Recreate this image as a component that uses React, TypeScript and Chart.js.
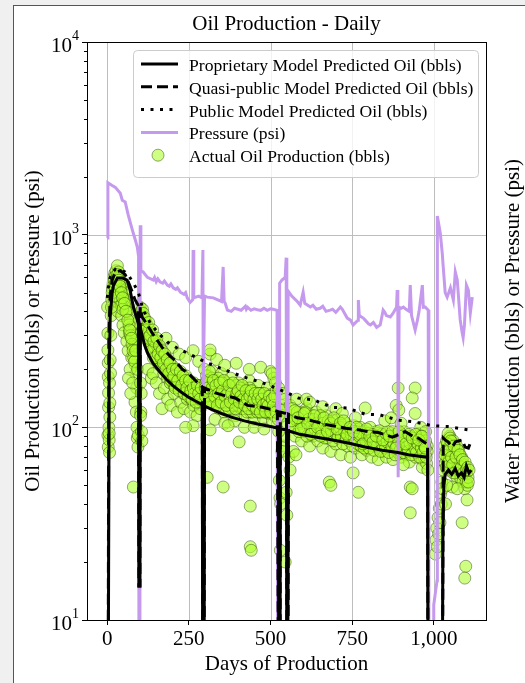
import { useEffect, useRef } from 'react';
import { Chart, registerables } from 'chart.js';

Chart.register(...registerables);

const chartTitle = 'Oil Production - Daily';
const xAxisTitle = 'Days of Production';
const yAxisTitle = 'Oil Production (bbls) or Pressure (psi)';
const y2AxisTitle = 'Water Production (bbls) or Pressure (psi)';
const xTickValues = [0, 250, 500, 750, 1000];
const yTickValues = [10, 100, 1000, 10000];
const yTickBase = '10';
const yTickExponents = ['1', '2', '3', '4'];
const seriesLabels = [
  'Proprietary Model Predicted Oil (bbls)',
  'Quasi-public Model Predicted Oil (bbls)',
  'Public Model Predicted Oil (bbls)',
  'Pressure (psi)',
  'Actual Oil Production (bbls)',
];

// [day, bbls]
const proprietaryModel: [number, number][] = [
  [2, 1], [6, 200], [9, 373], [15, 498], [19, 545], [31, 596], [46, 596], [61, 581], [70, 516], [80, 421], [92, 361], [96, 340],
  [97, 15], [100, 15], [101, 331], [107, 300], [115, 265], [125, 240], [140, 215], [160, 195], [180, 178], [200, 165], [225, 153],
  [250, 143], [270, 137], [291, 131], [293, 1], [296, 1], [298, 129], [320, 124], [350, 118], [380, 113], [420, 108], [460, 104],
  [500, 101], [524, 99], [526, 1], [529, 1], [530, 98], [549, 97], [551, 1], [553, 1], [555, 96], [590, 92], [637, 89], [690, 86],
  [738, 83], [790, 79], [842, 76], [890, 74], [922, 72], [950, 71], [981, 70], [983, 1], [1025, 1], [1028, 28], [1031, 50],
  [1035, 57], [1045, 60], [1055, 57], [1066, 61], [1075, 56], [1085, 58], [1093, 55], [1100, 63], [1108, 58], [1115, 60],
];

const quasiPublicModel: [number, number][] = [
  [2, 1], [5, 300], [9, 480], [15, 580], [25, 640], [40, 650], [55, 620], [70, 540], [85, 460], [95, 430], [97, 15], [100, 15],
  [101, 420], [107, 373], [123, 340], [138, 308], [155, 280], [168, 260], [190, 236], [208, 222], [230, 200], [248, 191], [270, 175],
  [291, 162], [293, 1], [296, 1], [298, 160], [331, 151], [360, 146], [392, 142], [430, 130], [475, 127], [500, 124], [521, 121],
  [526, 1], [529, 1], [530, 120], [549, 118], [551, 1], [553, 1], [555, 117], [582, 112], [610, 110], [637, 107], [662, 104],
  [689, 102], [730, 99], [769, 97], [800, 95], [830, 94], [873, 89], [895, 92], [913, 95], [935, 90], [953, 88], [974, 83], [981, 82],
  [983, 1], [1026, 1], [1029, 88], [1035, 86], [1044, 84], [1057, 79], [1066, 84], [1076, 85], [1087, 86], [1096, 79], [1106, 78],
  [1112, 83],
];

const publicModel: [number, number][] = [
  [0, 470], [5, 560], [12, 630], [25, 660], [40, 655], [55, 640], [64, 620], [80, 561], [95, 503], [110, 406], [132, 348],
  [153, 313], [184, 277], [214, 258], [245, 243], [276, 229], [306, 216], [346, 203], [386, 191], [429, 180], [469, 172],
  [508, 162], [551, 151], [585, 142], [631, 139], [689, 127], [735, 126], [790, 117], [836, 116], [891, 109], [937, 107],
  [995, 102], [1041, 101], [1106, 97],
];

// [day, psi]
const pressure: [number, number][] = [
  [0, 960], [2, 1860], [15, 1800], [25, 1760], [40, 1640], [46, 1510], [55, 1480], [64, 1270], [77, 1057], [86, 938], [92, 863],
  [96, 770], [97, 8], [100, 8], [101, 1120], [103, 650], [110, 640], [123, 600], [141, 581], [145, 600], [150, 570], [155, 590],
  [162, 567], [170, 560], [175, 575], [184, 547], [190, 540], [195, 555], [202, 530], [210, 520], [215, 530], [224, 503],
  [235, 490], [240, 500], [245, 470], [254, 445], [262, 460], [263, 832], [265, 470], [280, 480], [290, 470], [293, 832],
  [294, 156], [296, 156], [298, 480], [306, 474], [325, 470], [350, 450], [355, 680], [358, 450], [361, 442], [368, 406],
  [380, 400], [390, 415], [400, 410], [410, 405], [423, 425], [426, 410], [430, 420], [440, 405], [450, 412], [460, 408],
  [470, 405], [480, 415], [490, 405], [500, 412], [508, 410], [520, 405], [522, 8], [527, 8], [528, 560], [535, 581], [545, 600],
  [548, 760], [550, 8], [553, 8], [554, 510], [565, 480], [582, 450], [591, 431], [600, 503], [605, 440], [622, 421], [630, 430],
  [640, 410], [652, 415], [660, 425], [670, 400], [683, 406], [690, 410], [700, 395], [714, 421], [720, 410], [735, 369],
  [745, 360], [753, 340], [768, 360], [769, 458], [772, 380], [784, 369], [790, 360], [800, 345], [806, 340], [815, 350],
  [825, 330], [836, 340], [845, 406], [850, 395], [855, 380], [867, 374], [875, 390], [886, 420], [888, 516], [890, 400],
  [891, 55], [893, 55], [894, 420], [900, 415], [907, 421], [915, 410], [925, 400], [928, 547], [932, 380], [943, 320],
  [950, 360], [955, 400], [965, 547], [968, 420], [974, 421], [980, 410], [983, 406], [985, 8], [998, 8], [1000, 12], [1010, 16],
  [1011, 1250], [1020, 1018], [1026, 801], [1029, 680], [1035, 500], [1041, 474], [1051, 530], [1060, 458], [1066, 640],
  [1072, 581], [1081, 361], [1087, 310], [1090, 292], [1094, 340], [1100, 547], [1106, 516], [1112, 392], [1118, 474],
];

// [day, bbls]
const actualOil: [number, number][] = [
  // first flow period
  [1, 421], [2, 308], [2, 252], [3, 216], [3, 183], [4, 151], [4, 127], [2, 91], [3, 79], [5, 100], [6, 86], [7, 170], [8, 134],
  [8, 113], [6, 93], [7, 74], [9, 224], [10, 191], [11, 300], [12, 380], [14, 460], [16, 520], [18, 560], [20, 600], [23, 630],
  [27, 650], [31, 690], [35, 640], [38, 600], [42, 570], [24, 500], [28, 450], [32, 400], [36, 440], [40, 490], [45, 530], [50, 550],
  [55, 500], [44, 380], [48, 340], [52, 310], [58, 460], [62, 430], [66, 390], [70, 360], [60, 280], [64, 250], [68, 310], [73, 330],
  [77, 290], [80, 260], [83, 240], [86, 210], [88, 190], [90, 160], [85, 135], [89, 120], [91, 100], [92, 88], [94, 79], [80, 49],
  [86, 275], [90, 300], [94, 350], [75, 230], [70, 200], [65, 180], [72, 150], [78, 170], [95, 91], [17, 540], [21, 580], [26, 610],
  [29, 560], [33, 600], [37, 560], [41, 520], [46, 480], [51, 460], [56, 420], [61, 400], [67, 340], [71, 300], [76, 270], [81, 230],
  [30, 520], [34, 500], [39, 450], [43, 430], [47, 410], [13, 420], [15, 500], [19, 480], [22, 540], [25, 560], [28, 590], [32, 620],
  [36, 580], [39, 540], [43, 500], [47, 470], [53, 440], [57, 400], [63, 360], [69, 320], [74, 290], [79, 250], [84, 220], [87, 250],
  [93, 200],
  // after first restart
  [101, 420], [103, 400], [105, 380], [108, 410], [112, 360], [102, 170], [104, 150], [103, 120], [105, 95], [106, 85], [102, 115],
  [115, 330], [118, 300], [122, 340], [126, 310], [130, 280], [134, 300], [138, 270], [142, 250], [146, 285], [150, 240], [154, 260],
  [158, 225], [162, 245], [166, 215], [170, 235], [174, 205], [178, 225], [182, 195], [186, 215], [190, 200], [194, 185], [198, 210],
  [202, 190], [206, 175], [210, 195], [214, 180], [218, 165], [222, 185], [226, 170], [230, 160], [234, 180], [238, 165], [242, 155],
  [246, 175], [250, 160], [254, 150], [258, 170], [262, 155], [266, 145], [270, 165], [274, 150], [278, 140], [282, 160], [286, 148],
  [290, 155], [125, 200], [135, 180], [140, 190], [150, 170], [160, 150], [168, 125], [175, 160], [185, 140], [195, 130], [205, 150],
  [215, 120], [225, 135], [235, 125], [245, 140], [255, 120], [265, 130], [275, 115], [285, 125], [180, 290], [200, 260], [220, 240],
  [240, 230], [263, 250], [280, 220], [263, 102], [240, 100], [111, 350], [113, 320], [117, 360], [121, 300], [125, 280], [129, 320],
  [133, 260], [137, 290], [141, 230], [145, 260], [149, 270], [153, 230], [157, 250], [161, 210], [165, 240], [169, 220], [173, 190],
  [177, 210], [181, 230], [185, 180], [189, 210], [193, 170], [197, 195], [201, 200], [205, 165], [209, 185], [213, 170], [217, 190],
  [221, 160], [225, 180], [229, 175], [233, 150], [237, 170], [241, 185], [245, 150], [249, 170], [253, 165], [257, 140], [261, 160],
  [265, 170], [269, 145], [273, 160], [277, 155], [281, 135], [285, 165], [289, 140], [110, 390], [114, 370], [119, 320], [123, 290],
  [127, 350], [131, 300], [136, 250], [139, 320], [143, 280], [147, 230], [152, 290], [156, 240], [160, 265], [164, 230], [168, 250],
  [172, 215], [176, 240], [180, 200], [184, 225], [188, 190], [192, 215], [196, 175], [200, 200], [204, 185], [208, 160], [212, 200],
  [216, 175], [220, 155], [224, 195], [228, 165], [232, 185], [236, 150], [240, 175], [244, 160], [248, 145], [252, 175], [256, 155],
  [260, 140], [264, 160], [268, 150], [272, 135], [276, 165], [280, 150], [284, 140], [288, 160],
  // second period
  [298, 200], [302, 170], [306, 150], [310, 185], [314, 140], [318, 165], [322, 195], [326, 130], [330, 155], [334, 175], [338, 145],
  [342, 125], [346, 160], [350, 190], [354, 140], [358, 120], [362, 155], [366, 170], [370, 135], [374, 150], [378, 180], [382, 125],
  [386, 145], [390, 160], [394, 115], [398, 135], [402, 170], [406, 150], [410, 125], [414, 140], [418, 160], [422, 115], [426, 130],
  [430, 150], [434, 175], [438, 120], [442, 140], [446, 155], [450, 110], [454, 130], [458, 145], [462, 165], [466, 120], [470, 135],
  [474, 150], [478, 112], [482, 128], [486, 142], [490, 160], [494, 118], [498, 132], [502, 148], [506, 108], [510, 125], [514, 140],
  [518, 155], [521, 118], [315, 240], [335, 225], [360, 210], [395, 215], [435, 200], [470, 205], [500, 195], [510, 180], [330, 110],
  [360, 105], [390, 108], [420, 100], [450, 100], [480, 98], [315, 252], [315, 97], [306, 55], [355, 49], [438, 39], [438, 24],
  [441, 23], [404, 84], [370, 102], [505, 190], [515, 170], [300, 160], [304, 185], [308, 135], [312, 170], [316, 150], [320, 180],
  [324, 145], [328, 170], [332, 140], [336, 160], [340, 180], [344, 135], [348, 150], [352, 170], [356, 150], [360, 135], [364, 145],
  [368, 160], [372, 125], [376, 165], [380, 140], [384, 155], [388, 130], [392, 145], [396, 165], [400, 130], [404, 145], [408, 160],
  [412, 135], [416, 125], [420, 150], [424, 140], [428, 120], [432, 135], [436, 160], [440, 130], [444, 120], [448, 145], [452, 125],
  [456, 140], [460, 120], [464, 135], [468, 150], [472, 125], [476, 140], [480, 120], [484, 135], [488, 125], [492, 145], [496, 120],
  [500, 135], [504, 125], [508, 140], [512, 115], [516, 130], [520, 128], [301, 145], [305, 175], [309, 160], [313, 195], [317, 135],
  [321, 160], [325, 175], [329, 145], [333, 165], [337, 130], [341, 150], [345, 170], [349, 135], [353, 155], [357, 175], [361, 145],
  [365, 130], [369, 150], [373, 165], [377, 135], [381, 150], [385, 170], [389, 140], [393, 125], [397, 150], [401, 155], [405, 135],
  [409, 145], [413, 165], [417, 140], [421, 130], [425, 155], [429, 140], [433, 125], [437, 145], [441, 155], [445, 130], [449, 140],
  [453, 150], [457, 125], [461, 140], [465, 150], [469, 120], [473, 140], [477, 130], [481, 150], [485, 120], [489, 135], [493, 130],
  [497, 145], [501, 120], [505, 140], [509, 130], [513, 145], [517, 120],
  // around the mid shut-ins
  [527, 53], [529, 43], [531, 40], [548, 46], [550, 35], [530, 23], [545, 20], [540, 80], [535, 75], [543, 90], [523, 110], [525, 95],
  [533, 130], [538, 115], [546, 125], [552, 105], [556, 70], [525, 160], [535, 150], [545, 140],
  // third period
  [560, 130], [565, 100], [570, 115], [575, 90], [580, 140], [585, 105], [590, 120], [595, 85], [600, 110], [605, 95], [610, 125],
  [615, 100], [620, 80], [625, 115], [630, 90], [635, 105], [640, 120], [645, 85], [650, 100], [655, 110], [660, 78], [665, 95],
  [670, 115], [675, 88], [680, 100], [685, 75], [690, 108], [695, 92], [700, 82], [705, 110], [710, 95], [715, 72], [720, 100],
  [725, 88], [730, 105], [735, 80], [740, 95], [745, 70], [750, 90], [755, 102], [760, 78], [765, 92], [770, 85], [775, 100],
  [780, 72], [785, 88], [790, 95], [795, 76], [800, 85], [805, 100], [810, 70], [815, 90], [820, 80], [825, 95], [830, 68], [835, 85],
  [840, 92], [845, 75], [850, 88], [855, 70], [860, 95], [865, 80], [870, 90], [875, 68], [880, 85], [885, 92], [890, 74], [895, 88],
  [900, 70], [905, 82], [910, 95], [915, 72], [920, 85], [925, 66], [930, 90], [935, 78], [940, 84], [945, 70], [950, 92], [955, 75],
  [960, 82], [965, 68], [970, 88], [975, 72], [980, 80], [790, 126], [891, 160], [943, 160], [885, 130], [893, 123], [934, 142],
  [943, 118], [680, 52], [685, 50], [753, 58], [769, 46], [928, 49], [934, 48], [928, 36], [965, 62], [907, 64], [570, 75], [578, 72],
  [560, 60], [610, 140], [620, 135], [660, 128], [700, 125], [720, 118], [760, 112], [850, 108], [870, 112], [900, 105], [960, 100],
  [975, 95], [960, 90], [965, 78], [970, 70], [975, 85], [978, 65], [980, 75], [982, 60], [562, 115], [567, 125], [572, 100],
  [577, 110], [582, 120], [587, 95], [592, 105], [597, 115], [602, 100], [607, 120], [612, 90], [617, 110], [622, 100], [627, 95],
  [632, 110], [637, 98], [642, 105], [647, 92], [652, 115], [657, 95], [662, 105], [667, 88], [672, 98], [677, 108], [682, 90],
  [687, 96], [692, 85], [697, 100], [702, 92], [707, 88], [712, 100], [717, 90], [722, 82], [727, 95], [732, 88], [737, 98],
  [742, 85], [747, 92], [752, 80], [757, 88], [762, 95], [767, 82], [772, 90], [777, 80], [782, 93], [787, 78], [792, 85], [797, 90],
  [802, 78], [807, 85], [812, 92], [817, 76], [822, 86], [827, 80], [832, 88], [837, 75], [842, 82], [847, 90], [852, 78], [857, 84],
  [862, 74], [867, 86], [872, 79], [877, 83], [882, 72], [887, 80], [892, 86], [897, 76], [902, 82], [907, 74], [912, 86], [917, 79],
  [922, 75], [927, 83], [932, 72], [937, 85], [942, 78], [947, 74], [952, 82], [957, 70], [962, 78], [967, 74], [972, 80], [977, 70],
  [564, 108], [574, 122], [584, 112], [594, 98], [604, 118], [614, 105], [624, 92], [634, 115], [644, 100], [654, 90], [664, 112],
  [674, 95], [684, 105], [694, 112], [704, 98], [714, 105], [724, 108], [734, 92], [744, 100], [754, 95], [764, 100], [774, 92],
  [784, 82], [794, 98], [804, 90], [814, 84], [824, 90], [834, 96], [844, 86], [854, 93], [864, 90], [874, 95], [884, 78], [894, 95],
  [904, 90], [914, 82], [924, 92], [934, 88], [944, 92], [954, 86], [964, 90], [974, 78],
  // last restart
  [1005, 22], [1007, 26], [1009, 30], [1011, 24], [1013, 34], [1015, 28], [1017, 38], [1019, 32], [1021, 45], [1023, 40], [1025, 52],
  [1027, 48], [1029, 60], [1031, 70], [1033, 80], [1035, 65], [1037, 75], [1039, 85], [1041, 70], [1043, 60], [1045, 78], [1047, 68],
  [1049, 90], [1051, 72], [1053, 62], [1055, 80], [1057, 70], [1059, 58], [1061, 75], [1063, 65], [1065, 82], [1067, 60], [1069, 72],
  [1071, 55], [1073, 68], [1075, 62], [1077, 75], [1079, 58], [1081, 66], [1083, 54], [1085, 70], [1087, 60], [1089, 52], [1091, 64],
  [1093, 56], [1095, 48], [1097, 60], [1099, 52], [1101, 58], [1103, 50], [1105, 55], [1044, 93], [1057, 49], [1072, 48], [1087, 32],
  [1102, 42], [1098, 19], [1095, 16.5], [1040, 50], [1036, 40], [1050, 88], [1060, 85], [1070, 80], [1034, 72], [1038, 62],
  [1042, 82], [1046, 66], [1048, 76], [1052, 85], [1054, 70], [1058, 64], [1062, 80], [1064, 58], [1068, 70], [1074, 76], [1078, 60],
  [1080, 72], [1084, 62], [1088, 68], [1092, 58], [1096, 66], [1100, 60], [1104, 62], [1106, 52], [1108, 60],
];

const FONT = '"Liberation Serif", "Times New Roman", serif';
const GRID = '#bdbdbd';
const PRESSURE_COLOR = 'rgb(197,153,238)';
const POINT_FILL = 'rgba(173,255,47,0.6)';
const POINT_EDGE = 'rgba(30,50,0,0.55)';
const DASH = [11, 5];
const DOT = [3, 6.5];

const toXY = (arr: [number, number][]) => arr.map(([x, y]) => ({ x, y }));

const decorPlugin = {
  id: 'decor',
  afterDatasetDraw(chart: any, args: any) {
    if (args.index !== 4) return;
    const { ctx, chartArea: a, scales } = chart;
    ctx.save();
    ctx.strokeStyle = GRID;
    ctx.lineWidth = 1;
    ctx.beginPath();
    xTickValues.forEach((v) => {
      const px = Math.round(scales.x.getPixelForValue(v)) + 0.5;
      ctx.moveTo(px, a.top);
      ctx.lineTo(px, a.bottom);
    });
    yTickValues.forEach((v) => {
      const py = Math.round(scales.y.getPixelForValue(v)) + 0.5;
      ctx.moveTo(a.left, py);
      ctx.lineTo(a.right, py);
    });
    ctx.stroke();
    ctx.restore();
  },
  afterDatasetsDraw(chart: any) {
    const { ctx, chartArea: a, scales } = chart;
    ctx.save();
    ctx.strokeStyle = '#000';
    ctx.lineWidth = 1;
    ctx.strokeRect(Math.round(a.left) + 0.5, Math.round(a.top) + 0.5, Math.round(a.right - a.left), Math.round(a.bottom - a.top));
    ctx.beginPath();
    for (let d = 10; d < 10000; d *= 10) {
      for (let m = 2; m <= 9; m++) {
        const py = Math.round(scales.y.getPixelForValue(d * m)) + 0.5;
        ctx.moveTo(a.left - 3, py);
        ctx.lineTo(a.left, py);
      }
    }
    ctx.stroke();
    ctx.restore();
  },
  afterDraw(chart: any) {
    const { ctx, chartArea: a, scales } = chart;
    ctx.save();
    ctx.fillStyle = '#000';
    ctx.textAlign = 'center';
    ctx.textBaseline = 'alphabetic';
    ctx.font = `21px ${FONT}`;
    ctx.fillText(chartTitle, (a.left + a.right) / 2, 30);

    yTickValues.forEach((v, i) => {
      const py = scales.y.getPixelForValue(v);
      ctx.textAlign = 'right';
      ctx.font = `21px ${FONT}`;
      ctx.fillText(yTickBase, a.left - 15, py + 10);
      ctx.textAlign = 'left';
      ctx.font = `14px ${FONT}`;
      ctx.fillText(yTickExponents[i], a.left - 15, py - 2);
    });

    ctx.save();
    ctx.translate(513, (a.top + a.bottom) / 2);
    ctx.rotate(-Math.PI / 2);
    ctx.textAlign = 'center';
    ctx.textBaseline = 'middle';
    ctx.font = `21px ${FONT}`;
    ctx.fillText(y2AxisTitle, 0, 0);
    ctx.restore();

    const lx = 133.5, ly = 50.5, lw = 345, lh = 127, r = 4;
    ctx.beginPath();
    ctx.moveTo(lx + r, ly);
    ctx.arcTo(lx + lw, ly, lx + lw, ly + lh, r);
    ctx.arcTo(lx + lw, ly + lh, lx, ly + lh, r);
    ctx.arcTo(lx, ly + lh, lx, ly, r);
    ctx.arcTo(lx, ly, lx + lw, ly, r);
    ctx.closePath();
    ctx.fillStyle = 'rgba(255,255,255,0.8)';
    ctx.fill();
    ctx.strokeStyle = '#cccccc';
    ctx.lineWidth = 1;
    ctx.stroke();

    const x0 = 141, x1 = 178, tx = 189;
    seriesLabels.forEach((label, i) => {
      const y = 64 + i * 22.8;
      ctx.save();
      ctx.lineCap = 'butt';
      if (i < 4) {
        ctx.beginPath();
        ctx.strokeStyle = i === 3 ? PRESSURE_COLOR : '#000';
        ctx.lineWidth = 3;
        ctx.setLineDash(i === 1 ? DASH : i === 2 ? DOT : []);
        ctx.moveTo(x0, y);
        ctx.lineTo(x1, y);
        ctx.stroke();
      } else {
        ctx.beginPath();
        ctx.arc(158, y, 6, 0, Math.PI * 2);
        ctx.fillStyle = POINT_FILL;
        ctx.fill();
        ctx.strokeStyle = POINT_EDGE;
        ctx.lineWidth = 0.8;
        ctx.stroke();
      }
      ctx.restore();
      ctx.fillStyle = '#000';
      ctx.textAlign = 'left';
      ctx.textBaseline = 'alphabetic';
      ctx.font = `17.6px ${FONT}`;
      ctx.fillText(label, tx, y + 7);
    });
    ctx.restore();
  },
};

export default function App() {
  const ref = useRef<HTMLCanvasElement>(null);

  useEffect(() => {
    Chart.defaults.font.family = FONT;
    Chart.defaults.color = '#000';
    const lineBase = {
      showLine: true,
      pointRadius: 0,
      pointHoverRadius: 0,
      fill: false,
      tension: 0,
      clip: 0,
    };
    const chart = new Chart(ref.current as HTMLCanvasElement, {
      type: 'scatter',
      data: {
        datasets: [
          { ...lineBase, label: seriesLabels[0], data: toXY(proprietaryModel), borderColor: '#000', borderWidth: 3, order: 1 },
          { ...lineBase, label: seriesLabels[1], data: toXY(quasiPublicModel), borderColor: '#000', borderWidth: 3, borderDash: DASH, order: 2 },
          { ...lineBase, label: seriesLabels[2], data: toXY(publicModel), borderColor: '#000', borderWidth: 3, borderDash: DOT, borderCapStyle: 'butt', order: 3 },
          { ...lineBase, label: seriesLabels[3], data: toXY(pressure), borderColor: PRESSURE_COLOR, borderWidth: 3, order: 4 },
          {
            label: seriesLabels[4],
            data: toXY(actualOil),
            showLine: false,
            pointRadius: 6,
            pointHoverRadius: 6,
            backgroundColor: POINT_FILL,
            borderColor: POINT_EDGE,
            borderWidth: 0.8,
            order: 5,
            clip: 0,
          },
        ],
      } as any,
      options: {
        responsive: false,
        animation: false,
        devicePixelRatio: 1,
        layout: { padding: { left: 14, right: 39, top: 42, bottom: 0 } },
        plugins: { legend: { display: false }, tooltip: { enabled: false }, title: { display: false } },
        scales: {
          x: {
            type: 'linear',
            min: -62,
            max: 1160,
            afterFit: (s: any) => { s.height = 63; },
            afterBuildTicks: (s: any) => { s.ticks = xTickValues.map((v) => ({ value: v })); },
            ticks: {
              font: { size: 21, family: FONT },
              color: '#000',
              padding: 2,
              maxRotation: 0,
              autoSkip: false,
              callback: (v: any) => Number(v).toLocaleString('en-US'),
            },
            grid: { drawOnChartArea: false, drawTicks: true, tickLength: 5, tickColor: '#000', tickWidth: 1 },
            border: { display: true, color: '#000', width: 1 },
            title: { display: true, text: xAxisTitle, font: { size: 21, family: FONT }, color: '#000', padding: { top: 0, bottom: 6 } },
          },
          y: {
            type: 'logarithmic',
            min: 10,
            max: 10000,
            afterFit: (s: any) => { s.width = 73; },
            afterBuildTicks: (s: any) => { s.ticks = yTickValues.map((v) => ({ value: v, major: true })); },
            ticks: { display: false },
            grid: { drawOnChartArea: false, drawTicks: true, tickLength: 5, tickColor: '#000', tickWidth: 1 },
            border: { display: true, color: '#000', width: 1 },
            title: { display: true, text: yAxisTitle, font: { size: 21, family: FONT }, color: '#000', padding: { top: 7, bottom: 0 } },
          },
        },
      } as any,
      plugins: [decorPlugin],
    });
    return () => chart.destroy();
  }, []);

  return (
    <div style={{ position: 'fixed', left: 0, top: 0, width: 525, height: 683, background: '#f0f0f0', overflow: 'hidden' }}>
      <div
        style={{
          position: 'absolute',
          left: 13,
          top: 5,
          right: 0,
          bottom: 0,
          background: '#ffffff',
          borderLeft: '1px solid #555555',
          borderTop: '1px solid #555555',
        }}
      />
      <canvas ref={ref} width={525} height={683} style={{ position: 'absolute', left: 0, top: 0, width: 525, height: 683 }} />
    </div>
  );
}
